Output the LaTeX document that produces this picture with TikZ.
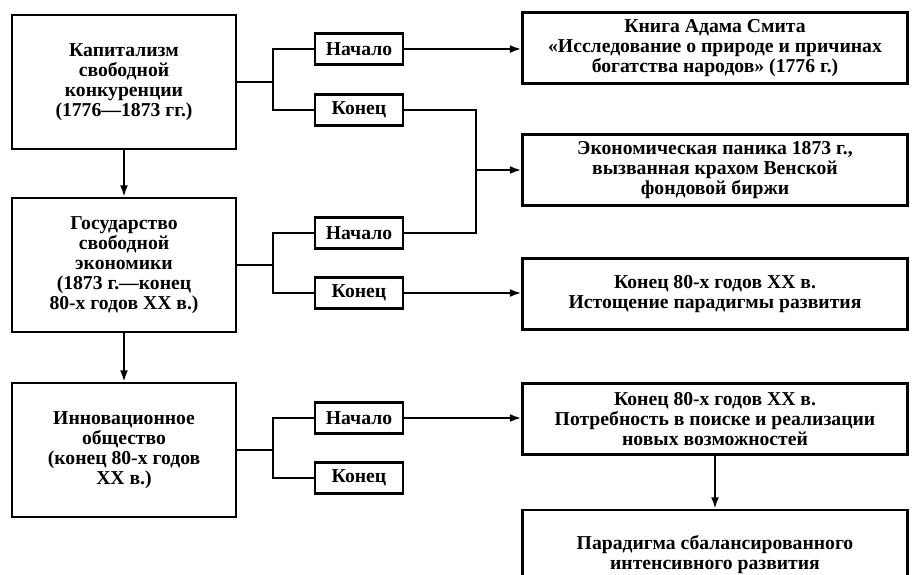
\documentclass[tikz,border=0pt]{standalone}
\usepackage{fontspec}
\setmainfont{Liberation Serif}
\usetikzlibrary{arrows.meta}
\begin{document}
\begin{tikzpicture}[>={Latex[length=6.5pt,width=4.5pt]}, x=0.02cm, y=-0.02cm,
  every node/.style={font=\bfseries\fontsize{11.2}{11.4}\selectfont, align=center},
  era/.style={draw, line width=1.4pt, minimum width=4.48cm, minimum height=2.68cm},
  tag/.style={draw, line width=1.3pt, minimum width=1.76cm, minimum height=0.62cm, inner sep=1pt},
  event/.style={draw, line width=1.4pt, minimum width=7.7cm, minimum height=1.42cm},
  wire/.style={line width=1.1pt}]
\useasboundingbox (0,0) rectangle (914,575);
\clip (0,0) rectangle (914,575);
% эпохи
\node[era] (kap) at (124,82) {Капитализм\\свободной\\конкуренции\\(1776—1873 гг.)};
\node[era] (gos) at (124,265) {Государство\\свободной\\экономики\\(1873 г.—конец\\80-х годов XX в.)};
\node[era] (inn) at (124,450) {Инновационное\\общество\\(конец 80-х годов\\XX в.)};
\draw[wire,->](kap)--(gos);
\draw[wire,->](gos)--(inn);
% начало / конец
\node[tag] (nach1) at (359,49) {Начало};
\node[tag] (kon1) at (359,110) {Конец};
\node[tag] (nach2) at (359,233) {Начало};
\node[tag] (kon2) at (359,293) {Конец};
\node[tag] (nach3) at (359,418) {Начало};
\node[tag] (kon3) at (359,478) {Конец};
\coordinate (j1) at (273,82);
\coordinate (j2) at (273,265);
\coordinate (j3) at (273,450);
\draw[wire](kap.east)--(j1);
\draw[wire](nach1.west)-|(j1)|-(kon1.west);
\draw[wire](gos.east)--(j2);
\draw[wire](nach2.west)-|(j2)|-(kon2.west);
\draw[wire](inn.east)--(j3);
\draw[wire](nach3.west)-|(j3)|-(kon3.west);
% события
\node[event] (smith) at (715,48) {Книга Адама Смита\\«Исследование о природе и причинах\\богатства народов» (1776 г.)};
\node[event] (panic) at (715,170) {Экономическая паника 1873 г.,\\вызванная крахом Венской\\фондовой биржи};
\node[event] (exh) at (715,294) {Конец 80-х годов XX в.\\Истощение парадигмы развития};
\node[event] (need) at (715,419) {Конец 80-х годов XX в.\\Потребность в поиске и реализации\\новых возможностей};
\node[event, minimum height=1.8cm] (parad) at (715,555) {Парадигма сбалансированного\\интенсивного развития};
\coordinate (m) at (476,170);
\draw[wire,->](nach1.east)--(smith.west |- nach1.east);
\draw[wire](kon1.east)-|(m)|-(nach2.east);
\draw[wire,->](m)--(panic.west);
\draw[wire,->](kon2.east)--(exh.west |- kon2.east);
\draw[wire,->](nach3.east)--(need.west |- nach3.east);
\draw[wire,->](need)--(parad);
\end{tikzpicture}
\end{document}
